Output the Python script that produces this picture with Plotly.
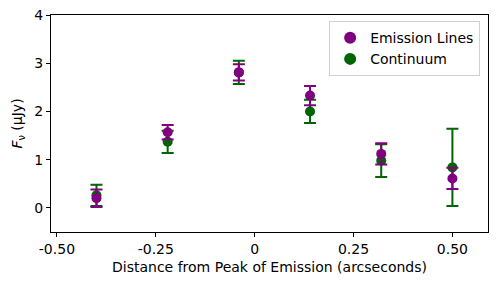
import plotly.graph_objects as go

x_pos = [-0.40, -0.22, -0.04, 0.14, 0.32, 0.50]
emission = [0.20, 1.57, 2.81, 2.33, 1.12, 0.61]
emission_err = [0.18, 0.15, 0.17, 0.20, 0.22, 0.22]
continuum = [0.26, 1.37, 2.81, 2.00, 0.98, 0.84]
continuum_err = [0.22, 0.23, 0.24, 0.24, 0.34, 0.80]
xtick_vals = [-0.5, -0.25, 0, 0.25, 0.5]
xtick_text = ["-0.50", "-0.25", "0", "0.25", "0.50"]
ytick_vals = [0, 1, 2, 3, 4]

fig = go.Figure()
fig.add_trace(go.Scatter(
    x=x_pos, y=continuum, mode="markers", name="Continuum",
    marker=dict(color="#006400", size=10),
    error_y=dict(type="data", array=continuum_err, color="#006400", thickness=2, width=6),
))
fig.add_trace(go.Scatter(
    x=x_pos, y=emission, mode="markers", name="Emission Lines",
    marker=dict(color="#800080", size=10),
    error_y=dict(type="data", array=emission_err, color="#800080", thickness=2, width=6),
))

axis_common = dict(showline=True, linecolor="black", linewidth=1, mirror=True,
                   ticks="outside", ticklen=4, tickcolor="black", showgrid=False,
                   zeroline=False, automargin=False, tickfont=dict(size=14, color="black"))
fig.update_layout(
    width=498, height=287,
    margin=dict(l=51, r=10, t=15, b=55),
    plot_bgcolor="white", paper_bgcolor="white",
    font=dict(family="DejaVu Sans", size=14, color="black"),
    xaxis=dict(range=[-0.515, 0.59], tickvals=xtick_vals, ticktext=xtick_text,
               title=dict(text="Distance from Peak of Emission (arcseconds)", font=dict(size=14), standoff=6),
               **axis_common),
    yaxis=dict(range=[-0.5, 4], tickvals=ytick_vals,
               title=dict(text="<i>F</i><sub>ν</sub> (μJy)", font=dict(size=14), standoff=8),
               **axis_common),
    legend=dict(x=0.982, y=0.972, xanchor="right", yanchor="top", traceorder="reversed",
                bordercolor="#d0d0d0", borderwidth=1, bgcolor="rgba(255,255,255,0.8)",
                font=dict(size=14), itemsizing="constant", tracegroupgap=0,
                entrywidth=162, entrywidthmode="pixels"),
)
fig.write_html("out.html", config={"displayModeBar": False},
               post_script="document.body.style.margin='0';document.body.style.padding='0';")
